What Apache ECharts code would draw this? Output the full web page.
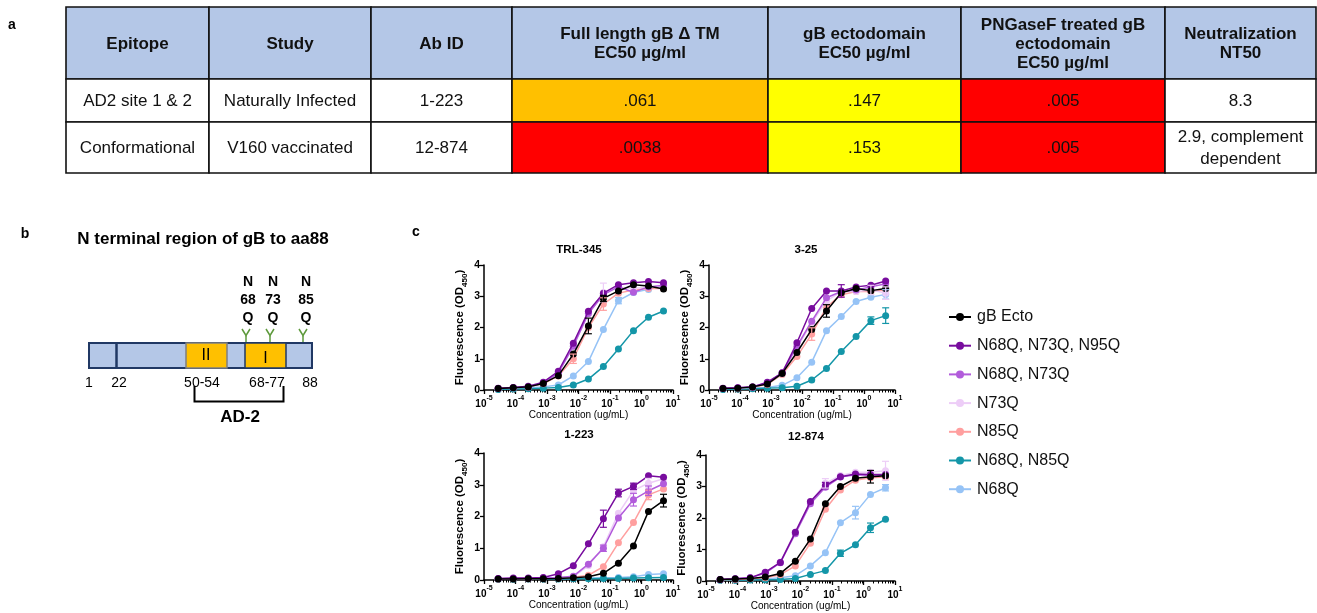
<!DOCTYPE html>
<html><head><meta charset="utf-8">
<script src="https://cdn.jsdelivr.net/npm/echarts@6/dist/echarts.min.js"></script>
<style>html,body{margin:0;padding:0;background:#fff}#c{width:1317px;height:613px}</style>
</head><body><div id="c"></div><script>
// ---------- DATA ----------
const concentrations = [0.0000282, 0.0000847, 0.000254, 0.000762, 0.00229, 0.00686, 0.0206, 0.0617, 0.185, 0.556, 1.667, 5];
const variantNames = ['gB Ecto', 'N68Q, N73Q, N95Q', 'N68Q, N73Q', 'N73Q', 'N85Q', 'N68Q, N85Q', 'N68Q'];
const variantColors = ['#000000', '#780C9E', '#B25CDB', '#EDCDF7', '#FF9F9F', '#1496A8', '#96C3F6'];
const drawOrder = [6, 5, 4, 3, 2, 1, 0];
const panelTitles = ['TRL-345', '3-25', '1-223', '12-874'];
const xTickExponents = [-5, -4, -3, -2, -1, 0, 1];
const yTickValues = [0, 1, 2, 3, 4];

// values: one row per variant (same order as variantNames), one column per concentration
const trl345 = [
  [0.05, 0.07, 0.10, 0.21, 0.46, 1.15, 2.05, 2.93, 3.17, 3.37, 3.33, 3.23],
  [0.06, 0.08, 0.12, 0.25, 0.60, 1.50, 2.52, 3.10, 3.37, 3.43, 3.47, 3.43],
  [0.05, 0.07, 0.10, 0.22, 0.55, 1.40, 2.45, 3.05, 3.30, 3.13, 3.30, 3.35],
  [0.05, 0.07, 0.10, 0.22, 0.55, 1.40, 2.45, 3.12, 3.30, 3.25, 3.30, 3.30],
  [0.05, 0.07, 0.10, 0.20, 0.45, 1.00, 2.00, 2.75, 3.10, 3.20, 3.25, 3.25],
  [0.02, 0.03, 0.04, 0.06, 0.08, 0.16, 0.35, 0.75, 1.31, 1.90, 2.33, 2.53],
  [0.03, 0.05, 0.07, 0.10, 0.16, 0.45, 0.91, 1.94, 2.86, 3.12, 3.22, 3.33]
];
const v325 = [
  [0.05, 0.06, 0.10, 0.19, 0.53, 1.20, 1.94, 2.53, 3.11, 3.25, 3.18, 3.25],
  [0.06, 0.07, 0.10, 0.25, 0.55, 1.51, 2.61, 3.17, 3.17, 3.30, 3.35, 3.49],
  [0.05, 0.07, 0.10, 0.23, 0.55, 1.40, 2.20, 2.95, 3.15, 3.20, 3.30, 3.40],
  [0.05, 0.07, 0.10, 0.22, 0.52, 1.35, 2.15, 2.85, 3.15, 3.15, 3.20, 3.10],
  [0.05, 0.06, 0.09, 0.18, 0.50, 1.07, 1.79, 2.65, 3.05, 3.15, 3.15, 3.20],
  [0.02, 0.03, 0.04, 0.06, 0.07, 0.12, 0.32, 0.69, 1.23, 1.71, 2.22, 2.38],
  [0.03, 0.04, 0.06, 0.08, 0.15, 0.39, 0.89, 1.90, 2.35, 2.83, 2.97, 3.06]
];
const v1223 = [
  [0.03, 0.03, 0.04, 0.04, 0.05, 0.07, 0.10, 0.21, 0.53, 1.07, 2.16, 2.50],
  [0.05, 0.06, 0.06, 0.08, 0.20, 0.45, 1.14, 1.93, 2.74, 2.95, 3.28, 3.24],
  [0.04, 0.05, 0.05, 0.06, 0.08, 0.12, 0.50, 1.00, 1.95, 2.53, 2.81, 3.03],
  [0.04, 0.05, 0.05, 0.06, 0.07, 0.10, 0.45, 1.05, 2.10, 2.82, 3.05, 3.19],
  [0.03, 0.04, 0.04, 0.05, 0.06, 0.09, 0.15, 0.42, 1.17, 1.81, 2.68, 2.87],
  [0.02, 0.02, 0.03, 0.03, 0.03, 0.04, 0.04, 0.05, 0.05, 0.06, 0.07, 0.08],
  [0.03, 0.03, 0.04, 0.04, 0.05, 0.05, 0.06, 0.07, 0.08, 0.10, 0.17, 0.20]
];
const v12874 = [
  [0.05, 0.06, 0.08, 0.13, 0.24, 0.63, 1.33, 2.45, 3.00, 3.26, 3.31, 3.34],
  [0.05, 0.07, 0.10, 0.28, 0.59, 1.55, 2.52, 3.03, 3.31, 3.40, 3.38, 3.38],
  [0.05, 0.07, 0.10, 0.25, 0.58, 1.50, 2.45, 2.98, 3.30, 3.37, 3.35, 3.35],
  [0.05, 0.07, 0.10, 0.26, 0.60, 1.55, 2.50, 3.10, 3.35, 3.45, 3.45, 3.50],
  [0.04, 0.05, 0.07, 0.10, 0.20, 0.48, 1.20, 2.28, 2.89, 3.20, 3.28, 3.30],
  [0.02, 0.02, 0.03, 0.04, 0.05, 0.08, 0.21, 0.33, 0.88, 1.15, 1.69, 1.96],
  [0.03, 0.03, 0.05, 0.06, 0.10, 0.17, 0.48, 0.90, 1.85, 2.17, 2.75, 2.96]
];
// error bars: [variant index, concentration index, +/- error]
const errTrl345 = [[0, 6, 0.25], [3, 7, 0.30], [4, 7, 0.20], [4, 5, 0.15], [0, 7, 0.10], [6, 8, 0.10]];
const err325 = [[0, 7, 0.20], [4, 6, 0.20], [5, 10, 0.12], [5, 11, 0.25], [6, 11, 0.15], [3, 11, 0.20], [1, 8, 0.20], [3, 10, 0.15]];
const err1223 = [[1, 7, 0.27], [1, 8, 0.12], [1, 9, 0.10], [2, 7, 0.10], [2, 9, 0.20], [3, 10, 0.15], [4, 10, 0.15], [0, 11, 0.20], [2, 10, 0.15]];
const err12874 = [[6, 9, 0.20], [5, 10, 0.15], [5, 8, 0.10], [0, 10, 0.20], [6, 11, 0.10], [3, 11, 0.30], [1, 7, 0.10], [3, 7, 0.15]];

// table (panel a)
const tableHeader = ['Epitope', 'Study', 'Ab ID', 'Full length gB \u0394 TM\nEC50 \u00b5g/ml', 'gB ectodomain\nEC50 \u00b5g/ml', 'PNGaseF treated gB\nectodomain\nEC50 \u00b5g/ml', 'Neutralization\nNT50'];
const tableRow1 = ['AD2 site 1 & 2', 'Naturally Infected', '1-223', '.061', '.147', '.005', '8.3'];
const tableRow2 = ['Conformational', 'V160 vaccinated', '12-874', '.0038', '.153', '.005', '2.9, complement\ndependent'];
const row1Colors = ['#FFFFFF', '#FFFFFF', '#FFFFFF', '#FFC000', '#FFFF00', '#FF0000', '#FFFFFF'];
const row2Colors = ['#FFFFFF', '#FFFFFF', '#FFFFFF', '#FF0000', '#FFFF00', '#FF0000', '#FFFFFF'];

// panel b labels
const glycoLabels = [['N', '68', 'Q'], ['N', '73', 'Q'], ['N', '85', 'Q']];
const residueLabels = ['1', '22', '50-54', '68-77', '88'];

// ---------- LAYOUT ----------
const FONT = 'Arial, "Liberation Sans", sans-serif';
const panelValues = [trl345, v325, v1223, v12874];
const panelErrors = [errTrl345, err325, err1223, err12874];
const grids = [
  {left: 484, top: 265, width: 189, height: 125},
  {left: 709, top: 265, width: 186, height: 125},
  {left: 484, top: 453, width: 189, height: 127},
  {left: 706, top: 455, width: 189, height: 126}
];
const titlePos = [[579, 250], [806, 250], [579, 435], [806, 437]];

const minorTicks = [];
xTickExponents.slice(0, -1).forEach(e => { for (let m = 2; m <= 9; m++) minorTicks.push(m * Math.pow(10, e)); });

const xAxes = [], yAxes = [], series = [];
grids.forEach((g, i) => {
  xAxes.push({
    type: 'log', logBase: 10, gridIndex: i, min: 1e-5, max: 10, interval: 1,
    axisLine: {show: true, onZero: false, lineStyle: {color: '#000', width: 1.5}},
    axisTick: {show: true, length: 4, lineStyle: {color: '#000', width: 1.3}},
    splitLine: {show: false}, minorTick: {show: false},
    axisLabel: {
      color: '#000', margin: 5,
      formatter: v => '{b|10}{s|' + Math.round(Math.log10(v)) + '}',
      rich: {
        b: {fontSize: 10, fontWeight: 'bold', fontFamily: FONT, color: '#000', lineHeight: 14, verticalAlign: 'bottom'},
        s: {fontSize: 7, fontWeight: 'bold', fontFamily: FONT, color: '#000', lineHeight: 14, verticalAlign: 'top'}
      }
    },
    name: 'Concentration (ug/mL)', nameLocation: 'middle', nameGap: 19,
    nameTextStyle: {fontSize: 10, color: '#000', fontFamily: FONT}
  });
  xAxes.push({
    type: 'log', logBase: 10, gridIndex: i, min: 1e-5, max: 10, position: 'bottom',
    axisLine: {show: false}, axisLabel: {show: false}, splitLine: {show: false},
    axisTick: {show: true, length: 2.5, customValues: minorTicks, lineStyle: {color: '#000', width: 1}}
  });
  yAxes.push({
    type: 'value', gridIndex: i, min: 0, max: 4, interval: 1,
    axisLine: {show: true, lineStyle: {color: '#000', width: 1.5}},
    axisTick: {show: true, length: 4, lineStyle: {color: '#000', width: 1.3}},
    splitLine: {show: false},
    axisLabel: {fontSize: 10.5, fontWeight: 'bold', color: '#000', fontFamily: FONT, margin: 4,
      customValues: yTickValues},
    name: '{a|Fluorescence (OD}{s|450}{a|)}', nameLocation: 'middle', nameRotate: 90, nameGap: 15,
    nameTextStyle: {rich: {
      a: {fontSize: 11.5, fontWeight: 'bold', color: '#000', fontFamily: FONT, lineHeight: 15, verticalAlign: 'top'},
      s: {fontSize: 8, fontWeight: 'bold', color: '#000', fontFamily: FONT, lineHeight: 15, verticalAlign: 'bottom'}
    }}
  });
  const vals = panelValues[i];
  drawOrder.forEach((v, oi) => {
    series.push({
      type: 'line', name: variantNames[v], xAxisIndex: 2 * i, yAxisIndex: i,
      data: concentrations.map((c, k) => [c, vals[v][k]]),
      symbol: 'circle', symbolSize: 7, showSymbol: true,
      lineStyle: {width: 1.5, color: variantColors[v]},
      itemStyle: {color: variantColors[v]},
      z: 3 + oi, emphasis: {disabled: true}, animation: false
    });
  });
  series.push({
    type: 'custom', name: 'errors', xAxisIndex: 2 * i, yAxisIndex: i,
    data: panelErrors[i].map(([v, k, e]) => [concentrations[k], vals[v][k], e, v]),
    encode: {x: 0, y: 1}, z: 12, animation: false, silent: true,
    renderItem: (params, api) => {
      const x = api.value(0), y = api.value(1), e = api.value(2), v = api.value(3);
      const top = api.coord([x, y + e]), bot = api.coord([x, y - e]);
      const st = {stroke: variantColors[v], lineWidth: 1.2};
      return {type: 'group', children: [
        {type: 'line', shape: {x1: top[0], y1: top[1], x2: bot[0], y2: bot[1]}, style: st},
        {type: 'line', shape: {x1: top[0] - 3.5, y1: top[1], x2: top[0] + 3.5, y2: top[1]}, style: st},
        {type: 'line', shape: {x1: bot[0] - 3.5, y1: bot[1], x2: bot[0] + 3.5, y2: bot[1]}, style: st}
      ]};
    }
  });
});

// ---------- GRAPHIC (table, panel b, labels) ----------
function txt(text, x, y, size, weight, align, extra) {
  return Object.assign({
    type: 'text', silent: true,
    style: {text: text, x: x, y: y, fill: '#000', fontSize: size, fontWeight: weight || 'normal', fontFamily: FONT,
      align: align || 'center', textAlign: align || 'center', verticalAlign: 'middle', textVerticalAlign: 'middle'}
  }, extra || {});
}
const graphics = [];
// panel letters
graphics.push(txt('a', 12, 25, 14, 'bold'));
graphics.push(txt('b', 25, 234, 14, 'bold'));
graphics.push(txt('c', 416, 232, 14, 'bold'));

// table
const colX = [66, 209, 371, 512, 768, 961, 1165, 1316];
const rowY = [7, 79, 122, 173];
const tableRows = [tableHeader, tableRow1, tableRow2];
const tableFills = [tableHeader.map(() => '#B4C7E7'), row1Colors, row2Colors];
tableRows.forEach((row, r) => {
  row.forEach((t, c) => {
    const x0 = colX[c], x1 = colX[c + 1], y0 = rowY[r], y1 = rowY[r + 1];
    graphics.push({type: 'rect', silent: true, shape: {x: x0, y: y0, width: x1 - x0, height: y1 - y0},
      style: {fill: tableFills[r][c], stroke: '#111', lineWidth: 1.6}});
    const s = txt(t, (x0 + x1) / 2, (y0 + y1) / 2 + 1, 17, r === 0 ? 'bold' : 'normal');
    s.style.lineHeight = r === 0 ? 19 : 22;
    s.style.fill = '#111';
    graphics.push(s);
  });
});

// panel b
graphics.push(txt('N terminal region of gB to aa88', 203, 239, 17, 'bold'));
graphics.push({type: 'rect', silent: true, shape: {x: 89, y: 343, width: 223, height: 25},
  style: {fill: '#B4C7E7', stroke: '#203864', lineWidth: 2}});
graphics.push({type: 'line', silent: true, shape: {x1: 116.5, y1: 343, x2: 116.5, y2: 368},
  style: {stroke: '#203864', lineWidth: 2.5}});
graphics.push({type: 'rect', silent: true, shape: {x: 186, y: 343, width: 41, height: 25},
  style: {fill: '#FFC000', stroke: '#7F7F7F', lineWidth: 1.5}});
graphics.push({type: 'rect', silent: true, shape: {x: 245, y: 343, width: 41, height: 25},
  style: {fill: '#FFC000', stroke: '#203864', lineWidth: 1.5}});
graphics.push(txt('II', 206, 356, 16, 'normal'));
graphics.push(txt('I', 265.5, 359, 16, 'normal'));
const residueX = [89, 119, 202, 267, 310];
residueLabels.forEach((t, i) => graphics.push(txt(t, residueX[i], 383, 14, 'normal')));
graphics.push({type: 'polyline', silent: true,
  shape: {points: [[194.5, 386], [194.5, 401.5], [283.5, 401.5], [283.5, 386]]},
  style: {stroke: '#000', lineWidth: 2, fill: null}});
graphics.push(txt('AD-2', 240, 417, 17, 'bold'));
const glycoX = [248, 273, 306];
const glycoYX = [246, 270, 303];
glycoLabels.forEach((lines, i) => {
  [282, 300, 318].forEach((yy, j) => graphics.push(txt(lines[j], glycoX[i], yy, 14, 'bold')));
  const gx = glycoYX[i];
  graphics.push({type: 'polyline', silent: true, shape: {points: [[gx - 4, 329], [gx, 335.5], [gx + 4, 329]]},
    style: {stroke: '#5E9A3C', lineWidth: 1.5, fill: null}});
  graphics.push({type: 'line', silent: true, shape: {x1: gx, y1: 335.5, x2: gx, y2: 342},
    style: {stroke: '#5E9A3C', lineWidth: 1.5}});
});
// subplot titles
panelTitles.forEach((t, i) => graphics.push(txt(t, titlePos[i][0], titlePos[i][1], 11.5, 'bold')));

const chart = echarts.init(document.getElementById('c'), null, {renderer: 'canvas'});
chart.setOption({
  animation: false,
  backgroundColor: '#ffffff',
  textStyle: {fontFamily: FONT},
  grid: grids.map(g => Object.assign({containLabel: false}, g)),
  xAxis: xAxes,
  yAxis: yAxes,
  legend: {
    data: variantNames, orient: 'vertical', left: 943, top: 304,
    itemWidth: 22, itemHeight: 10, itemGap: 12.7, selectedMode: false,
    textStyle: {fontSize: 16, color: '#111', fontFamily: FONT, padding: [0, 0, 0, 1]}
  },
  series: series,
  graphic: {elements: graphics}
});
</script></body></html>
